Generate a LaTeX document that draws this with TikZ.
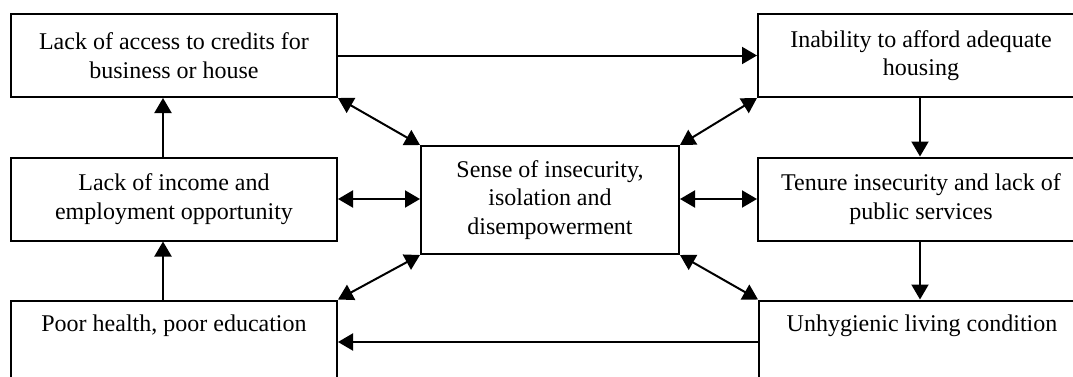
\documentclass[tikz,border=0pt]{standalone}
\usepackage{fontspec}
\setmainfont{Liberation Serif}
\usetikzlibrary{arrows.meta}
\begin{document}
\begin{tikzpicture}[x=0.5pt,y=-0.5pt,
  box/.style={draw, line width=1pt, align=center, inner sep=0pt,
    font=\fontsize{12}{14.3}\selectfont},
  sidebox/.style={box, minimum width=163pt, minimum height=41.5pt},
  midbox/.style={box, minimum width=129pt, minimum height=54pt},
  arr/.style={line width=1pt, -{Triangle[width=8.5pt,length=7.5pt]}},
  biarr/.style={line width=1pt, {Triangle[width=8.5pt,length=7.5pt]}-{Triangle[width=8.5pt,length=7.5pt]}}]
\useasboundingbox (0,0) rectangle (1073,376);
\clip (0,0) rectangle (1073,376);
\fill[white] (0,0) rectangle (1073,376);

% left column
\node[sidebox] (credit) at (174,55.5) {Lack of access to credits for\\business or house};
\node[sidebox] (income) at (174,199) {Lack of income and\\employment opportunity};
\node[sidebox] (health) at (174,342) {Poor health, poor education\\\strut};
% right column
\node[sidebox] (afford) at (921,55.5) {Inability to afford adequate\\housing};
\node[sidebox] (tenure) at (921,199) {Tenure insecurity and lack of\\public services};
\node[sidebox] (hygiene) at (922,342) {Unhygienic living condition\\\strut};
% centre
\node[midbox] (sense) at (550,200) {Sense of insecurity,\\isolation and\\disempowerment};

% columns of the vertical arrows
\coordinate (lx) at (163,0);
\coordinate (rx) at (920,0);

% outer cycle
\draw[arr] (credit.east) -- (credit.east -| afford.west);
\draw[arr] (afford.south -| rx) -- (tenure.north -| rx);
\draw[arr] (tenure.south -| rx) -- (hygiene.north -| rx);
\draw[arr] (hygiene.west) -- (hygiene.west -| health.east);
\draw[arr] (health.north -| lx) -- (income.south -| lx);
\draw[arr] (income.north -| lx) -- (credit.south -| lx);

% links with the centre
\draw[biarr] (credit.south east) -- (sense.north west);
\draw[biarr] (afford.south west) -- (sense.north east);
\draw[biarr] (health.north east) -- (sense.south west);
\draw[biarr] (hygiene.north west) -- (sense.south east);
\draw[biarr] (income.east) -- (income.east -| sense.west);
\draw[biarr] (tenure.west) -- (tenure.west -| sense.east);
\end{tikzpicture}
\end{document}
